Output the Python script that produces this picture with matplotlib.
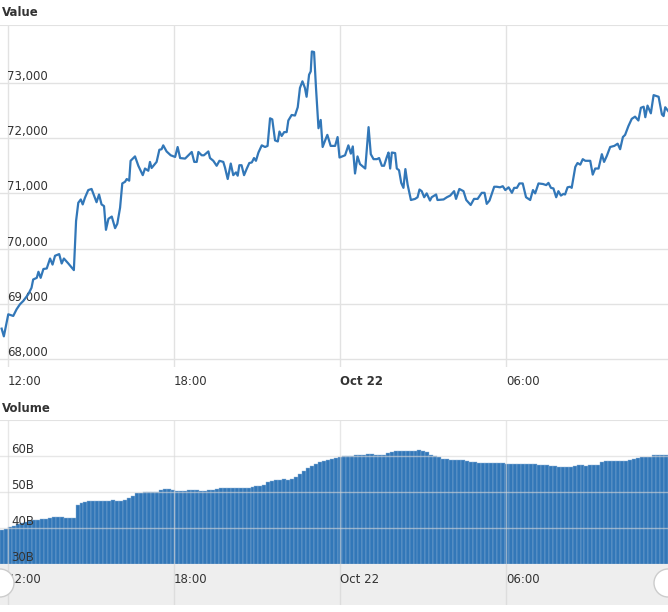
import numpy as np
import matplotlib
matplotlib.use("Agg")
import matplotlib.pyplot as plt
from matplotlib.patches import Circle

# hours after 12:00 (Oct 21)
price_hours = [-0.23,-0.15,0.01,0.19,0.31,0.43,0.55,0.73,0.85,0.91,1.04,1.10,1.18,1.28,1.40,1.52,1.61,1.70,1.85,1.94,
 2.02,2.18,2.38,2.46,2.54,2.63,2.70,2.78,2.90,3.02,3.14,3.20,3.29,3.38,3.47,3.54,3.63,3.75,3.87,3.95,4.05,4.13,4.23,
 4.29,4.38,4.43,4.59,4.71,4.87,4.95,5.07,5.13,5.19,5.37,5.47,5.55,5.61,5.73,5.88,6.04,6.13,6.22,6.40,6.58,6.64,6.73,
 6.82,6.88,7.00,7.08,7.24,7.30,7.42,7.54,7.64,7.78,7.84,7.94,8.05,8.14,8.24,8.30,8.36,8.44,8.53,8.63,8.72,8.81,8.89,
 8.96,9.05,9.17,9.29,9.38,9.47,9.55,9.65,9.75,9.81,9.89,9.98,10.07,10.13,10.25,10.37,10.47,10.55,10.64,10.73,10.79,
 10.88,10.94,10.98,11.06,11.13,11.22,11.30,11.37,11.46,11.54,11.66,
 11.82,11.91,11.98,12.18,12.30,12.39,12.46,12.54,12.63,12.72,12.91,13.03,13.11,13.21,13.33,13.41,13.51,13.59,13.69,
 13.75,13.81,13.87,13.99,14.05,14.13,14.21,14.29,14.36,14.44,14.56,14.71,14.80,14.87,14.95,15.04,15.13,15.25,15.31,
 15.47,15.52,15.74,15.86,15.98,16.12,16.19,16.31,16.46,16.56,16.72,16.84,16.97,17.12,17.22,17.30,17.40,17.48,17.57,
 17.66,17.78,17.88,17.97,18.09,18.21,18.29,18.39,18.48,18.60,18.72,18.87,18.97,19.05,19.17,19.33,19.45,19.53,19.62,
 19.71,19.81,19.89,19.98,20.07,20.13,20.22,20.31,20.37,20.50,20.58,20.68,20.77,20.86,21.04,21.13,21.22,21.34,21.46,
 21.54,21.64,21.76,21.91,22.03,22.12,22.22,22.30,22.42,22.54,22.66,22.78,22.87,22.97,23.03,23.11,23.23,23.33,23.51,
 23.63,23.69,23.75,23.86]
price_values = [68550,68410,68810,68780,68900,68990,69050,69170,69290,69440,69470,69580,69470,69630,69640,69820,69710,
 69870,69900,69730,69820,69730,69610,70500,70830,70890,70800,70920,71060,71080,70920,70840,70980,70800,70770,70340,
 70540,70580,70370,70450,70740,71180,71210,71260,71230,71590,71670,71500,71330,71450,71410,71570,71460,71570,71790,
 71800,71870,71760,71690,71660,71840,71640,71630,71720,71750,71570,71570,71750,71690,71690,71760,71640,71590,71500,
 71590,71570,71470,71260,71540,71330,71380,71320,71510,71510,71330,71450,71550,71560,71640,71590,71740,71870,71840,
 71860,72360,72340,71960,71940,72120,72040,72110,72110,72320,72420,72410,72560,72910,73030,72910,72750,73150,73210,
 73570,73560,72910,72180,72330,71840,71960,72060,71860,
 71860,72020,71650,71690,71870,71720,71850,71360,71670,71530,71450,72200,71710,71620,71620,71640,71500,71500,71660,
 71740,71450,71740,71730,71450,71420,71190,71100,71440,71160,70880,70900,70930,71070,71040,70930,71000,70870,70930,
 70980,70880,70890,70930,70960,71040,70900,71080,71040,70880,70790,70900,70900,71010,71010,70810,70870,70990,71120,
 71120,71110,71130,71060,71110,71010,71100,71100,71180,71180,70930,70880,71060,71000,71180,71170,71150,71190,71100,
 71090,70930,71040,70960,70990,70980,71110,71120,71100,71480,71550,71520,71620,71590,71590,71340,71450,71450,71710,
 71570,71680,71840,71860,71900,71800,72020,72060,72220,72350,72390,72320,72550,72570,72380,72590,72450,72780,72750,
 72430,72400,72560,72490]

volume_b = [39.5,39.8,40.2,40.6,41.0,41.5,41.8,42.0,42.1,42.3,42.5,42.6,42.8,43.0,43.1,43.0,42.9,42.9,42.9,46.3,
 47.0,47.3,47.5,47.5,47.6,47.5,47.6,47.5,47.7,47.6,47.5,47.8,48.3,48.9,49.6,49.8,49.9,49.9,50.0,50.1,50.6,50.9,50.9,
 50.6,50.4,50.3,50.4,50.5,50.6,50.5,50.4,50.3,50.5,50.6,50.8,51.0,51.2,51.0,51.1,51.2,51.1,51.0,51.2,51.3,
 51.6,51.8,52.0,52.9,53.1,53.3,53.3,53.5,53.4,53.7,54.3,55.0,55.8,56.6,57.2,57.7,58.2,58.7,59.0,59.3,59.5,59.7,
 59.9,60.0,60.1,60.2,60.3,60.3,60.5,60.6,60.4,60.3,60.4,60.7,61.1,61.4,61.5,61.5,61.4,61.5,61.5,61.6,61.5,
 61.0,60.4,59.9,59.6,59.3,59.1,59.0,59.0,58.9,58.9,58.7,58.3,58.2,58.1,58.1,58.0,58.1,58.1,58.0,58.0,57.9,57.9,
 57.8,57.8,57.8,57.7,57.7,57.7,57.6,57.5,57.4,57.3,57.2,57.0,56.9,56.9,57.0,57.2,57.4,57.4,57.3,57.4,57.4,57.5,
 58.2,58.5,58.6,58.6,58.7,58.6,58.6,58.8,59.3,59.5,59.6,59.6,59.7,60.2,60.4,60.3,60.4]

tick_hours = [0, 6, 12, 18]
tick_labels = ["12:00", "18:00", "Oct 22", "06:00"]
price_ticks = [68000, 69000, 70000, 71000, 72000, 73000]
volume_ticks = [30, 40, 50, 60]

W, H = 668, 612
XMIN, XMAX = -0.289, 23.85
BLUE = "#3277b8"
GRID = "#e2e2e2"
TXT = "#333333"

fig = plt.figure(figsize=(W/100, H/100), dpi=100)

def ax_at(top, bottom):
    return fig.add_axes([0, 1 - bottom/H, 1, (bottom - top)/H])

def style(ax):
    for s in ax.spines.values():
        s.set_visible(False)
    ax.set_xlim(XMIN, XMAX)
    ax.set_xticks(tick_hours)
    ax.grid(True, color=GRID, lw=1)
    ax.set_axisbelow(True)
    ax.tick_params(length=0)

# price
ax1 = ax_at(25, 367)
style(ax1)
ax1.plot(price_hours, price_values, color=BLUE, lw=1.6)
ax1.set_ylim(67855, 74050)
ax1.set_yticks(price_ticks)
ax1.set_yticklabels([f"{v:,}" for v in price_ticks])
ax1.tick_params(axis="y", pad=-5, labelsize=8.5, labelcolor=TXT)
for l in ax1.get_yticklabels():
    l.set_ha("left"); l.set_va("bottom")
ax1.set_xticklabels(tick_labels)
ax1.tick_params(axis="x", pad=6, labelsize=8.5, labelcolor=TXT)
for l in ax1.get_xticklabels():
    l.set_ha("left")
    if l.get_text() == "Oct 22":
        l.set_fontweight("bold")
ax1.axhline(ax1.get_ylim()[1], color=GRID, lw=1.5)
fig.text(2/W, 1 - 13/H, "Value", fontsize=8.5, fontweight="bold", color=TXT, va="center")

# volume
ax2 = ax_at(420, 564)
style(ax2)
n = len(volume_b)
step = (XMAX - XMIN) / n
bar_x = XMIN + step * (np.arange(n) + 0.5)
ax2.bar(bar_x, volume_b, width=step, color=BLUE, edgecolor="#8fb4d8", linewidth=0.3, zorder=0.2)
ax2.set_ylim(30, 70)
ax2.set_yticks(volume_ticks)
ax2.set_yticklabels([f"{v}B" for v in volume_ticks])
ax2.tick_params(axis="y", pad=-8, labelsize=8.5, labelcolor=TXT)
for l in ax2.get_yticklabels():
    l.set_ha("left"); l.set_va("bottom")
ax2.set_xticklabels([])
ax2.grid(True, color="#d8d8d8", lw=1, alpha=0.6)
ax2.axhline(70, color=GRID, lw=1.5)
fig.text(2/W, 1 - 408/H, "Volume", fontsize=8.5, fontweight="bold", color=TXT, va="center")

# navigator
ax3 = ax_at(564, 605)
style(ax3)
ax3.set_facecolor("#eeeeee")
ax3.set_ylim(0, 1)
ax3.set_yticks([])
ax3.set_xticklabels(tick_labels)
ax3.tick_params(axis="x", pad=-23, labelsize=8.5, labelcolor=TXT)
for l in ax3.get_xticklabels():
    l.set_ha("left")
ax3.grid(True, axis="x", color="#dddddd")
for xc in (0, W):
    fig.patches.append(Circle((xc, H - 583), 14, transform=None, facecolor="white",
                              edgecolor="#cccccc", lw=1, zorder=10))

fig.savefig("out.png", dpi=100)
